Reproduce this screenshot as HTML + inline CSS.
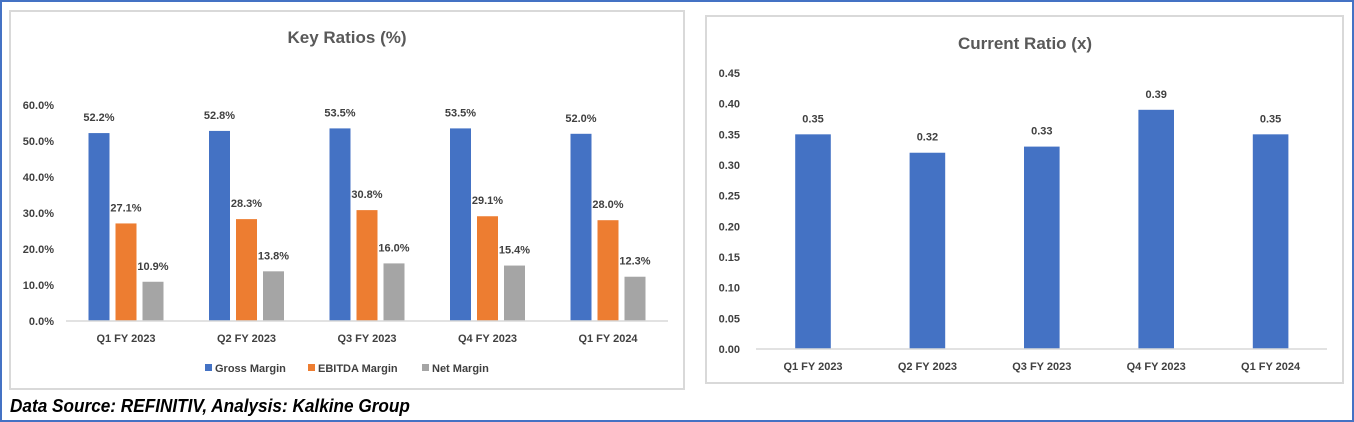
<!DOCTYPE html>
<html><head><meta charset="utf-8"><style>
html,body{margin:0;padding:0;background:#fff;}
body{width:1354px;height:422px;position:relative;overflow:hidden;font-family:"Liberation Sans",sans-serif;}
#outer{position:absolute;left:0;top:0;width:1350px;height:418px;border:2px solid #4472c4;}
svg{position:absolute;left:0;top:0;}
#src{position:absolute;left:10px;top:396px;font-size:18px;font-weight:bold;font-style:italic;color:#000;white-space:nowrap;transform:scaleX(0.955);transform-origin:0 0;}
</style></head><body>
<div id="outer"></div>
<svg id="svg" width="1354" height="422"></svg>
<div id="src">Data Source: REFINITIV, Analysis: Kalkine Group</div>
<script>
const categories = ["Q1 FY 2023","Q2 FY 2023","Q3 FY 2023","Q4 FY 2023","Q1 FY 2024"];
const grossMargin = [52.2,52.8,53.5,53.5,52.0];
const ebitdaMargin = [27.1,28.3,30.8,29.1,28.0];
const netMargin = [10.9,13.8,16.0,15.4,12.3];
const leftTicks = [0,10,20,30,40,50,60];
const currentRatio = [0.35,0.32,0.33,0.39,0.35];
const rightTicks = [0,0.05,0.10,0.15,0.20,0.25,0.30,0.35,0.40,0.45];

const NS="http://www.w3.org/2000/svg";
const svg=document.getElementById('svg');
function mk(tag,attrs,parent){const e=document.createElementNS(NS,tag);for(const k in attrs)e.setAttribute(k,attrs[k]);(parent||svg).appendChild(e);return e;}
function txt(s,attrs){const e=mk('text',Object.assign({'font-family':'Liberation Sans, sans-serif','font-weight':'bold',fill:'#404040','font-size':11},attrs));e.textContent=s;return e;}

// Left panel
let p=mk('rect',{x:10,y:11,width:674,height:378,fill:'#fff',stroke:'#d9d9d9','stroke-width':2});


let t=txt('Key Ratios (%)',{x:347,y:43,'text-anchor':'middle','font-size':17,fill:'#595959'});


const L={x0:66,x1:668,y0:321,yTop:105,max:60};
const ly=v=>L.y0-(v/L.max)*(L.y0-L.yTop);
const lcx=i=>126+i*120.5;
leftTicks.forEach(v=>{let e=txt(v.toFixed(1)+'%',{x:54,y:ly(v)+4,'text-anchor':'end'});

});
const series=[[grossMargin,'#4472c4','gross'],[ebitdaMargin,'#ed7d31','ebitda'],[netMargin,'#a5a5a5','net']];
series.forEach((s,si)=>{s[0].forEach((v,i)=>{const x=lcx(i)+(si-1)*27-10.5;
let r=mk('rect',{x:x,y:ly(v),width:21,height:L.y0-ly(v),fill:s[1]});


let lb=txt(v.toFixed(1)+'%',{x:x+10.5,y:ly(v)-12,'text-anchor':'middle'});

});});
let ax=mk('line',{x1:L.x0,x2:L.x1,y1:L.y0,y2:L.y0,stroke:'#d9d9d9','stroke-width':1.5});


categories.forEach((c,i)=>{let e=txt(c,{x:lcx(i),y:342,'text-anchor':'middle'});

});
const leg=[['Gross Margin','#4472c4',205],['EBITDA Margin','#ed7d31',308],['Net Margin','#a5a5a5',422]];
leg.forEach(l=>{let r=mk('rect',{x:l[2],y:364,width:7,height:7,fill:l[1]});


let e=txt(l[0],{x:l[2]+10,y:372});

});

// Right panel
p=mk('rect',{x:706,y:16,width:637,height:367,fill:'#fff',stroke:'#d9d9d9','stroke-width':2});


t=txt('Current Ratio (x)',{x:1025,y:49,'text-anchor':'middle','font-size':17,fill:'#595959'});


const R={x0:756,x1:1327,y0:349,yTop:73,max:0.45};
const ry=v=>R.y0-(v/R.max)*(R.y0-R.yTop);
const rcx=i=>813+i*114.4;
rightTicks.forEach(v=>{let e=txt(v.toFixed(2),{x:740,y:ry(v)+4,'text-anchor':'end'});

});
currentRatio.forEach((v,i)=>{let r=mk('rect',{x:rcx(i)-17.8,y:ry(v),width:35.6,height:R.y0-ry(v),fill:'#4472c4'});


let lb=txt(v.toFixed(2),{x:rcx(i),y:ry(v)-12,'text-anchor':'middle'});

});
ax=mk('line',{x1:R.x0,x2:R.x1,y1:R.y0,y2:R.y0,stroke:'#d9d9d9','stroke-width':1.5});


categories.forEach((c,i)=>{let e=txt(c,{x:rcx(i),y:370,'text-anchor':'middle'});

});
</script>
</body></html>
